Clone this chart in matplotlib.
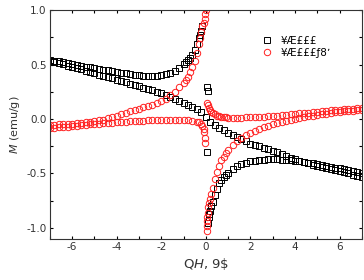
import matplotlib
matplotlib.use("Agg")
from matplotlib import pyplot as plt

# Dane: pole H (T) i namagnesowanie M (emu/g)
# Probka 1 - galaz prawie liniowa
h1_lin = [-7.0, -6.8, -6.6, -6.4, -6.2, -6.0, -5.8, -5.6, -5.4, -5.2, -5.0, -4.8, -4.6, -4.4, -4.2,
          -4.0, -3.8, -3.6, -3.4, -3.2, -3.0, -2.8, -2.6, -2.4, -2.2, -2.0, -1.8, -1.6, -1.4, -1.2,
          -1.0, -0.8, -0.6, -0.4, -0.2, 0.0, 0.2, 0.4, 0.6, 0.8, 1.0, 1.2, 1.4, 1.6, 1.8, 2.0, 2.2,
          2.4, 2.6, 2.8, 3.0, 3.2, 3.4, 3.6, 3.8, 4.0, 4.2, 4.4, 4.6, 4.8, 5.0, 5.2, 5.4, 5.6, 5.8,
          6.0, 6.2, 6.4, 6.6, 6.8, 7.0]
m1_lin = [0.535, 0.524, 0.513, 0.502, 0.491, 0.480, 0.468, 0.456, 0.444, 0.432, 0.420, 0.408,
          0.396, 0.384, 0.372, 0.360, 0.348, 0.336, 0.324, 0.312, 0.300, 0.288, 0.276, 0.263,
          0.249, 0.235, 0.218, 0.201, 0.184, 0.167, 0.150, 0.130, 0.112, 0.092, 0.060, 0.020,
          -0.025, -0.055, -0.080, -0.105, -0.125, -0.145, -0.165, -0.185, -0.205, -0.225, -0.238,
          -0.251, -0.264, -0.277, -0.290, -0.306, -0.322, -0.338, -0.354, -0.370, -0.382, -0.394,
          -0.406, -0.418, -0.430, -0.440, -0.450, -0.460, -0.470, -0.480, -0.490, -0.500, -0.510,
          -0.520, -0.530]

# Probka 1 - galaz rosnaca do bieguna (lewa strona)
h1_left = [-7.0, -6.8, -6.6, -6.4, -6.2, -6.0, -5.8, -5.6, -5.4, -5.2, -5.0, -4.8, -4.6, -4.4,
           -4.2, -4.0, -3.8, -3.6, -3.4, -3.2, -3.0, -2.8, -2.6, -2.4, -2.2, -2.0, -1.8, -1.6,
           -1.4, -1.2, -1.0, -0.9, -0.8, -0.7, -0.6, -0.5, -0.4, -0.3, -0.25, -0.2, -0.15]
m1_left = [0.545, 0.537, 0.529, 0.521, 0.513, 0.505, 0.497, 0.489, 0.481, 0.474, 0.467, 0.460,
           0.453, 0.446, 0.439, 0.432, 0.425, 0.418, 0.412, 0.406, 0.401, 0.398, 0.396, 0.396,
           0.399, 0.404, 0.412, 0.425, 0.445, 0.470, 0.505, 0.520, 0.540, 0.562, 0.590, 0.635,
           0.685, 0.740, 0.775, 0.810, 0.850]

# Probka 1 - pojedyncze punkty przy H = 0
h1_zero = [0.06, 0.08, 0.06]
m1_zero = [0.29, 0.26, -0.30]

# Probka 1 - galaz prawa (od bieguna w dol)
h1_right = [0.08, 0.12, 0.16, 0.2, 0.25, 0.3, 0.4, 0.5, 0.6, 0.7, 0.8, 0.9, 1.0, 1.2, 1.4, 1.6,
            1.8, 2.0, 2.2, 2.4, 2.6, 2.8, 3.0, 3.2, 3.4, 3.6, 3.8, 4.0, 4.2, 4.4, 4.6, 4.8, 5.0,
            5.2, 5.4, 5.6, 5.8, 6.0, 6.2, 6.4, 6.6, 6.8, 7.0]
m1_right = [-0.95, -0.90, -0.87, -0.84, -0.80, -0.76, -0.70, -0.64, -0.59, -0.56, -0.535, -0.51,
            -0.495, -0.46, -0.435, -0.415, -0.40, -0.39, -0.382, -0.376, -0.372, -0.370, -0.370,
            -0.371, -0.373, -0.376, -0.380, -0.385, -0.390, -0.395, -0.401, -0.408, -0.415,
            -0.422, -0.430, -0.438, -0.446, -0.454, -0.462, -0.470, -0.478, -0.486, -0.494]

# Probka 2 - galaz rosnaca do bieguna (lewa strona)
h2_up = [-7.0, -6.8, -6.6, -6.4, -6.2, -6.0, -5.8, -5.6, -5.4, -5.2, -5.0, -4.8, -4.6, -4.4,
         -4.2, -4.0, -3.8, -3.6, -3.4, -3.2, -3.0, -2.8, -2.6, -2.4, -2.2, -2.0, -1.8, -1.6, -1.4,
         -1.2, -1.0, -0.9, -0.8, -0.7, -0.6, -0.5, -0.4, -0.3, -0.25, -0.2, -0.15, -0.1, -0.06,
         -0.03, 0.0]
m2_up = [-0.055, -0.053, -0.050, -0.048, -0.045, -0.042, -0.038, -0.034, -0.029, -0.024, -0.018,
         -0.012, -0.005, 0.006, 0.018, 0.030, 0.043, 0.056, 0.069, 0.082, 0.095, 0.107, 0.120,
         0.133, 0.148, 0.165, 0.188, 0.216, 0.250, 0.290, 0.335, 0.360, 0.390, 0.435, 0.480,
         0.535, 0.605, 0.690, 0.740, 0.800, 0.855, 0.885, 0.920, 0.960, 1.000]

# Probka 2 - galaz plaska po prawej stronie
h2_flat = [0.06, 0.1, 0.15, 0.2, 0.25, 0.3, 0.4, 0.5, 0.6, 0.7, 0.8, 0.9, 1.0, 1.2, 1.4, 1.6,
           1.8, 2.0, 2.2, 2.4, 2.6, 2.8, 3.0, 3.2, 3.4, 3.6, 3.8, 4.0, 4.2, 4.4, 4.6, 4.8, 5.0,
           5.2, 5.4, 5.6, 5.8, 6.0, 6.2, 6.4, 6.6, 6.8, 7.0]
m2_flat = [0.145, 0.125, 0.100, 0.080, 0.067, 0.057, 0.042, 0.032, 0.025, 0.020, 0.017, 0.015,
           0.013, 0.012, 0.012, 0.013, 0.014, 0.016, 0.018, 0.020, 0.022, 0.025, 0.028, 0.031,
           0.035, 0.039, 0.043, 0.047, 0.051, 0.055, 0.059, 0.063, 0.067, 0.071, 0.075, 0.079,
           0.083, 0.087, 0.090, 0.093, 0.096, 0.099, 0.102]

# Probka 2 - galaz plaska po lewej stronie (z dolkiem przy H = 0)
h2_low = [-7.0, -6.8, -6.6, -6.4, -6.2, -6.0, -5.8, -5.6, -5.4, -5.2, -5.0, -4.8, -4.6, -4.4,
          -4.2, -4.0, -3.8, -3.6, -3.4, -3.2, -3.0, -2.8, -2.6, -2.4, -2.2, -2.0, -1.8, -1.6,
          -1.4, -1.2, -1.0, -0.8, -0.6, -0.4, -0.3, -0.2, -0.15, -0.1, -0.07, -0.05, -0.03]
m2_low = [-0.085, -0.081, -0.077, -0.073, -0.069, -0.065, -0.061, -0.057, -0.053, -0.049, -0.045,
          -0.042, -0.039, -0.036, -0.033, -0.030, -0.027, -0.024, -0.021, -0.018, -0.016, -0.014,
          -0.012, -0.010, -0.009, -0.008, -0.008, -0.008, -0.008, -0.009, -0.010, -0.012, -0.016,
          -0.024, -0.032, -0.045, -0.065, -0.090, -0.120, -0.170, -0.220]

# Probka 2 - galaz rosnaca po prawej stronie
h2_rise = [0.04, 0.05, 0.06, 0.07, 0.08, 0.1, 0.13, 0.17, 0.22, 0.3, 0.4, 0.5, 0.6, 0.7, 0.8,
           0.9, 1.0, 1.2, 1.4, 1.6, 1.8, 2.0, 2.2, 2.4, 2.6, 2.8, 3.0, 3.2, 3.4, 3.6, 3.8, 4.0,
           4.2, 4.4, 4.6, 4.8, 5.0, 5.2, 5.4, 5.6, 5.8, 6.0, 6.2, 6.4, 6.6, 6.8, 7.0]
m2_rise = [-1.03, -0.98, -0.94, -0.90, -0.86, -0.81, -0.77, -0.73, -0.69, -0.63, -0.555, -0.485,
           -0.43, -0.38, -0.345, -0.31, -0.28, -0.235, -0.20, -0.17, -0.145, -0.125, -0.107,
           -0.091, -0.076, -0.062, -0.049, -0.037, -0.026, -0.016, -0.007, 0.002, 0.010, 0.018,
           0.025, 0.032, 0.038, 0.044, 0.050, 0.055, 0.060, 0.065, 0.070, 0.074, 0.078, 0.082,
           0.086]

labels = ["¥Æ£££", "¥Æ£££ƒ8ʼ"]

plt.rcParams["axes.unicode_minus"] = False
plt.rcParams["font.family"] = "DejaVu Sans"

fig = plt.figure(figsize=(3.64, 2.80), dpi=100)
ax = fig.add_axes([0.137, 0.147, 0.857, 0.817])

# styl markerow
sq = dict(linestyle="none", marker="s", markersize=4.0, markerfacecolor="none",
          markeredgecolor="black", markeredgewidth=0.7)
ci = dict(linestyle="none", marker="o", markersize=4.6, markerfacecolor="none",
          markeredgecolor="#ff2020", markeredgewidth=0.7)

ax.plot(h1_lin, m1_lin, label=labels[0], **sq)
ax.plot(h1_left, m1_left, **sq)
ax.plot(h1_zero, m1_zero, **sq)
ax.plot(h1_right, m1_right, **sq)

ax.plot(h2_up, m2_up, label=labels[1], **ci)
ax.plot(h2_flat, m2_flat, **ci)
ax.plot(h2_low, m2_low, **ci)
ax.plot(h2_rise, m2_rise, **ci)

ax.set_xlim(-7, 7)
ax.set_ylim(-1.1, 1.0)
ax.set_xticks([-6, -4, -2, 0, 2, 4, 6])
ax.set_xticks(range(-7, 8), minor=True)
ax.set_yticks([-1.0, -0.5, 0.0, 0.5, 1.0])
ax.set_yticks([-1.0, -0.75, -0.5, -0.25, 0.0, 0.25, 0.5, 0.75, 1.0], minor=True)
ax.tick_params(which="both", direction="in", top=True, right=True, length=2.5, width=0.8,
               labelsize=7.5, labelcolor="#333333", pad=2.5)
for s in ax.spines.values():
    s.set_linewidth(0.8)
    s.set_color("#333333")

ax.set_xlabel("Q$H$, 9\\$", fontsize=9.5, color="#333333", labelpad=3)
ax.set_ylabel("$M$ (emu/g)", fontsize=8, color="#333333", labelpad=3)

ax.legend(loc="upper left", bbox_to_anchor=(0.665, 0.905), frameon=False, fontsize=7.5,
          handlelength=1.0, handletextpad=0.8, labelspacing=0.2, borderaxespad=0)

fig.savefig("out.png", dpi=100)
